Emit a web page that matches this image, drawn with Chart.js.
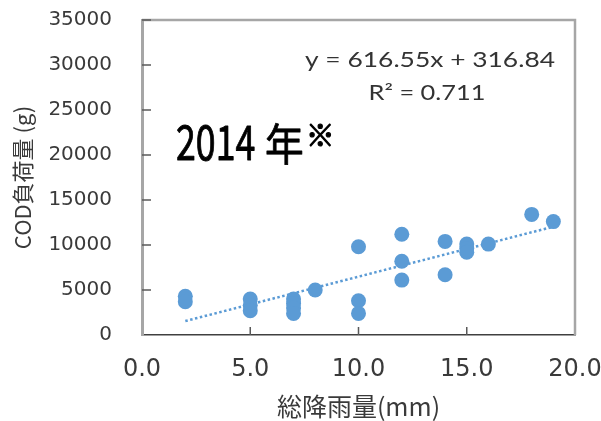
<!DOCTYPE html>
<html><head><meta charset="utf-8">
<script src="https://cdn.jsdelivr.net/npm/chart.js@4"></script>
<style>html,body{margin:0;padding:0;background:#fff;overflow:hidden}</style>
</head><body>
<canvas id="c" width="601" height="421"></canvas>
<script>
// ---- data ----
const rainfall = [2,2,5,5,5,7,7,7,7,8,10,10,10,12,12,12,14,14,15,15,15,16,18,19];
const codLoad  = [4300,3700,4000,3300,2700,4000,3500,3000,2400,5000,9800,3800,2400,11200,8200,6100,10400,6700,10100,9600,9200,10100,13400,12600];
const xTickValues = [0,5,10,15,20];
const yTickValues = [0,5000,10000,15000,20000,25000,30000,35000];
const trendSlope = 616.55;
const trendIntercept = 316.84;
const equationLines = ['y = 616.55x + 316.84', 'R² = 0.711'];
const yearParts = ['2014', '年', '※'];
const xTitle = '総降雨量(mm)';
const yTitle = 'COD負荷量 (g)';

const blue = '#5B9BD5';
const points = rainfall.map((x,i)=>({x:x, y:codLoad[i]}));
const xMin = Math.min(...rainfall), xMax = Math.max(...rainfall);
const trend = [xMin, xMax].map(x=>({x:x, y:trendSlope*x+trendIntercept}));

function drawScaled(ctx, text, x, y, font, sx, align, strokeW){
  ctx.save();
  ctx.font = font;
  ctx.textAlign = align || 'left';
  ctx.translate(x, y);
  ctx.scale(sx, 1);
  ctx.fillText(text, 0, 0);
  if (strokeW){
    ctx.lineWidth = strokeW;
    ctx.lineJoin = 'round';
    ctx.strokeStyle = ctx.fillStyle;
    ctx.strokeText(text, 0, 0);
  }
  ctx.restore();
}

const framePlugin = {
  id:'frame',
  beforeDatasetsDraw(chart){
    const {ctx, chartArea:a, scales} = chart;
    ctx.save();
    ctx.strokeStyle = '#a6a6a6';
    ctx.lineWidth = 2.5;
    ctx.beginPath();
    ctx.moveTo(a.left, a.top); ctx.lineTo(a.right, a.top); ctx.lineTo(a.right, a.bottom);
    ctx.stroke();
    ctx.strokeStyle = '#595959';
    ctx.lineWidth = 1.5;
    ctx.beginPath();
    scales.y.ticks.forEach(t=>{
      const py = scales.y.getPixelForValue(t.value);
      if (t.value<=0) return;
      ctx.moveTo(a.left, py); ctx.lineTo(a.left+9, py);
    });
    scales.x.ticks.forEach(t=>{
      const px = scales.x.getPixelForValue(t.value);
      if (t.value<=0 || t.value>=20) return;
      ctx.moveTo(px, a.bottom); ctx.lineTo(px, a.bottom-8);
    });
    ctx.stroke();
    ctx.restore();
  },
  afterDraw(chart){
    const {ctx} = chart;
    ctx.save();
    ctx.fillStyle = '#000';
    ctx.textBaseline = 'alphabetic';
    drawScaled(ctx, yearParts[0], 176, 160, '47px "Noto Sans CJK JP"', 0.76, 'left', 0.9);
    drawScaled(ctx, yearParts[1], 265, 161, '44px "Noto Sans CJK JP"', 0.88, 'left', 0.8);
    drawScaled(ctx, yearParts[2], 306, 146, '30px "Noto Sans CJK JP"', 0.95, 'left', 1.2);
    ctx.restore();
    // equation
    ctx.save();
    ctx.fillStyle = '#333333';
    ctx.font = '21px Lato';
    ctx.textAlign = 'center';
    const targets = [[430, 67, 250],[427, 100, 117]];
    equationLines.forEach((s,i)=>{
      const [cx, by, w] = targets[i];
      const m = ctx.measureText(s).width;
      drawScaled(ctx, s, cx, by, '21px Lato', w/m, 'center');
    });
    ctx.restore();
  }
};

new Chart(document.getElementById('c'), {
  type:'scatter',
  data:{
    datasets:[
      {data:points, backgroundColor:blue, borderWidth:0, pointRadius:7.5, pointHoverRadius:7.5, order:1},
      {type:'line', data:trend, borderColor:blue, borderWidth:2.5, borderDash:[2.5,2.5], pointRadius:0, fill:false, order:2}
    ]
  },
  options:{
    responsive:false, animation:false, devicePixelRatio:1,
    layout:{padding:{top:20, right:26, left:0, bottom:0}},
    plugins:{legend:{display:false}, tooltip:{enabled:false}},
    scales:{
      x:{
        type:'linear', min:0, max:20,
        afterBuildTicks(s){ s.ticks = xTickValues.map(v=>({value:v})); },
        ticks:{callback:v=>v.toFixed(1), font:{family:'"DejaVu Sans"', size:24}, color:'#3a3a3a', padding:20, maxRotation:0},
        grid:{drawOnChartArea:false, drawTicks:false},
        border:{color:'#404040', width:1.5},
        title:{display:true, text:xTitle, font:{family:'"Noto Sans CJK JP"', size:25}, color:'#3a3a3a', padding:{top:0,bottom:0}},
        afterFit(s){ s.height = 86; s.paddingRight = 0; s.paddingLeft = 0; }
      },
      y:{
        type:'linear', min:0, max:35000,
        afterBuildTicks(s){ s.ticks = yTickValues.map(v=>({value:v})); },
        ticks:{callback:v=>String(v), font:{family:'"DejaVu Sans"', size:20}, color:'#3a3a3a', padding:30},
        grid:{drawOnChartArea:false, drawTicks:false},
        border:{color:'#a6a6a6', width:3},
        title:{display:true, text:yTitle, font:{family:'"Noto Sans CJK JP"', size:22}, color:'#3a3a3a', padding:{top:9,bottom:0}},
        afterFit(s){ s.width = 142; s.paddingTop = 0; s.paddingBottom = 0; }
      }
    }
  },
  plugins:[framePlugin]
});
</script>
</body></html>
